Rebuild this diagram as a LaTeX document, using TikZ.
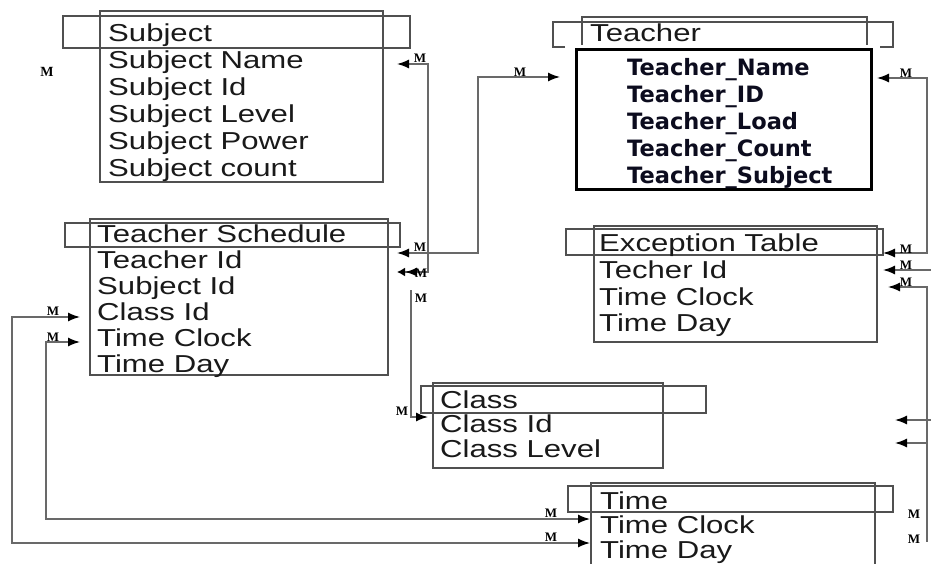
\documentclass[tikz,border=0pt]{standalone}
\usepackage{fontspec}
\setmainfont{Liberation Sans}
\newfontfamily\widesans[FakeStretch=1.27]{Liberation Sans}
\newfontfamily\dejavu{DejaVu Sans}
\newfontfamily\mfont{Liberation Serif}
\usetikzlibrary{arrows.meta}
\definecolor{boxgray}{RGB}{80,80,80}
\definecolor{linegray}{RGB}{105,105,105}
\definecolor{navyblack}{RGB}{12,12,30}
\begin{document}
\begin{tikzpicture}[x=1pt,y=-1pt,
  >={Latex[length=12pt,width=9pt,color=black]},
  fld/.style={font=\widesans\fontsize{24.5}{24.5}\selectfont, text=black!90, anchor=west, inner sep=0pt, text height=17pt, text depth=0pt},
  tfld/.style={font=\dejavu\bfseries\fontsize{22.5}{22.5}\selectfont, text=navyblack, anchor=west, inner sep=0pt, text height=16pt, text depth=0pt},
  listbox/.style={draw=boxgray, line width=1.8pt, inner sep=0pt},
  headbox/.style={draw=boxgray, line width=2.2pt, inner sep=0pt},
  conn/.style={draw=linegray, line width=1.4pt},
  mlab/.style={font=\mfont\bfseries\fontsize{13}{13}\selectfont, inner sep=0pt}
]
\useasboundingbox (0,0) rectangle (931,564);

% ---------- Subject ----------
\node[listbox, minimum width=283pt, minimum height=171pt] (subjbox) at (241.5,96.5) {};
\node[headbox, minimum width=347pt, minimum height=32pt] (subjhead) at (236.5,32) {};
\node[fld] (s0) at (108,33) {Subject};
\node[fld] (s1) at (108,60) {Subject Name};
\node[fld] (s2) at (108,87) {Subject Id};
\node[fld] (s3) at (108,114) {Subject Level};
\node[fld] (s4) at (108,141) {Subject Power};
\node[fld] (s5) at (108,168) {Subject count};

% ---------- Teacher Schedule ----------
\node[listbox, minimum width=298pt, minimum height=156pt] (tsbox) at (239,297) {};
\node[headbox, minimum width=335pt, minimum height=24pt] (tshead) at (232.5,235) {};
\node[fld] (ts0) at (97,234) {Teacher Schedule};
\node[fld] (ts1) at (97,260) {Teacher Id};
\node[fld] (ts2) at (97,286) {Subject Id};
\node[fld] (ts3) at (97,312) {Class Id};
\node[fld] (ts4) at (97,338) {Time Clock};
\node[fld] (ts5) at (97,364) {Time Day};

% ---------- Teacher ----------
\draw[boxgray, line width=2.2pt] (565,47) -- (553,47) -- (553,22) -- (893,22) -- (893,47) -- (880,47);
\draw[boxgray, line width=2.2pt] (582,45) -- (582,17) -- (867,17) -- (867,45);
\node[fld] (t0) at (590,33) {Teacher};
\node[draw=black, line width=3pt, fill=white, minimum width=295pt, minimum height=140pt, inner sep=0pt] (tbox) at (723.5,120) {};
\node[tfld] (t1) at (627,68) {Teacher\_Name};
\node[tfld] (t2) at (627,95) {Teacher\_ID};
\node[tfld] (t3) at (627,122) {Teacher\_Load};
\node[tfld] (t4) at (627,149) {Teacher\_Count};
\node[tfld] (t5) at (627,176) {Teacher\_Subject};

% ---------- Exception Table ----------
\node[listbox, minimum width=283pt, minimum height=116pt] (exbox) at (735.5,284) {};
\node[headbox, minimum width=317pt, minimum height=26pt] (exhead) at (724.5,242) {};
\node[fld] (e0) at (599,243) {Exception Table};
\node[fld] (e1) at (599,270) {Techer Id};
\node[fld] (e2) at (599,297) {Time Clock};
\node[fld] (e3) at (599,323) {Time Day};

% ---------- Class ----------
\node[listbox, minimum width=230pt, minimum height=85pt] (clbox) at (548,425.5) {};
\node[headbox, minimum width=285pt, minimum height=27pt] (clhead) at (563.5,399.5) {};
\node[fld] (c0) at (440,400) {Class};
\node[fld] (c1) at (440,424) {Class Id};
\node[fld] (c2) at (440,449) {Class Level};

% ---------- Time ----------
\node[listbox, minimum width=284pt, minimum height=100pt] (tmbox) at (733,533) {};
\node[headbox, minimum width=325pt, minimum height=26pt] (tmhead) at (730.5,499) {};
\node[fld] (tm0) at (600,501) {Time};
\node[fld] (tm1) at (600,525) {Time Clock};
\node[fld] (tm2) at (600,550) {Time Day};

% ---------- connector end points ----------
\coordinate (pSubjName) at (397,64);
\coordinate (pTsSubj) at (397,272);
\coordinate (pTsTeach) at (397,253);
\coordinate (pTeachL) at (560,77);
\coordinate (pClsTop) at (411,290);
\coordinate (pClsIn) at (428,417);
\coordinate (pTsClass) at (80,317);
\coordinate (pTsClock) at (80,342);
\coordinate (cornOut) at (12,543);
\coordinate (cornIn) at (46,519);
\coordinate (pTmDay) at (590,543);
\coordinate (pTmClock) at (590,519);
\coordinate (pTeachR) at (877,78);
\coordinate (cornR1) at (927,78);
\coordinate (pExHead) at (883,253);
\coordinate (pExId) at (883,270);
\coordinate (openA) at (931,270);
\coordinate (pExClock) at (888,287);
\coordinate (cornR2) at (927,542);
\coordinate (pR1) at (895,420);
\coordinate (openB) at (931,420);
\coordinate (pR2) at (895,443);
\coordinate (openC) at (927,443);

% ---------- connectors ----------
\draw[conn, {Latex[length=12pt,width=9pt,color=black]}-{Latex[length=12pt,width=9pt,color=black]Latex[length=8pt,width=9pt,color=black]}] (pSubjName) -- ++(31,0) |- (pTsSubj);
\draw[conn, <->] (pTsTeach) -- ++(81,0) |- (pTeachL);
\draw[conn, ->] (pClsTop) |- (pClsIn);
\draw[conn, <->] (pTsClass) -| (cornOut) -- (pTmDay);
\draw[conn, <->] (pTsClock) -| (cornIn) -- (pTmClock);
\draw[conn, <->] (pTeachR) -- (cornR1) |- (pExHead);
\draw[conn, <-] (pExId) -- (openA);
\draw[conn, <-] (pExClock) -| (cornR2);
\draw[conn, <-] (pR1) -- (openB);
\draw[conn, <-] (pR2) -- (openC);

% ---------- M labels ----------
\node[mlab, font=\mfont\bfseries\fontsize{14}{14}\selectfont] (m0) at (47,72) {M};
\node[mlab] (m1) at (420,58) {M};
\node[mlab] (m2) at (421,273) {M};
\node[mlab] (m3) at (420,247) {M};
\node[mlab] (m4) at (520,72) {M};
\node[mlab] (m5) at (421,298) {M};
\node[mlab] (m6) at (402,411) {M};
\node[mlab] (m7) at (53,311) {M};
\node[mlab] (m8) at (53,337) {M};
\node[mlab] (m9) at (551,513) {M};
\node[mlab] (m10) at (551,537) {M};
\node[mlab] (m11) at (906,73) {M};
\node[mlab] (m12) at (906,249) {M};
\node[mlab] (m13) at (906,265) {M};
\node[mlab] (m14) at (906,282) {M};
\node[mlab] (m15) at (914,514) {M};
\node[mlab] (m16) at (914,539) {M};
\end{tikzpicture}
\end{document}
